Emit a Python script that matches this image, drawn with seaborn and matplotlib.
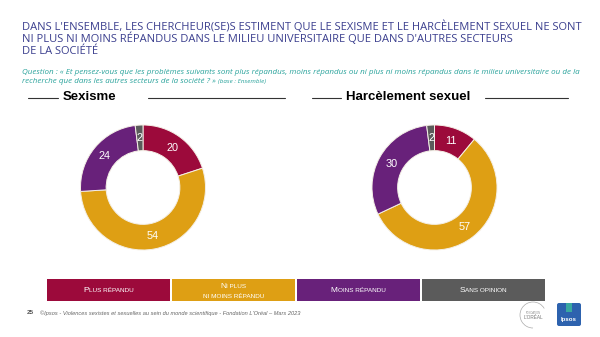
import matplotlib
matplotlib.use("Agg")
import matplotlib.pyplot as plt
import seaborn as sns
from matplotlib.patches import Rectangle, FancyBboxPatch, Arc

sns.set_theme(style="white")
plt.rcParams['font.family'] = ['Liberation Sans', 'DejaVu Sans']

# ---- data ----
categories = ["Plus répandu", "Ni plus ni moins répandu", "Moins répandu", "Sans opinion"]
sexisme = [20, 54, 24, 2]
harcelement = [11, 57, 30, 2]
chart_titles = ["Sexisme", "Harcèlement sexuel"]
legend_labels = [["Plus répandu"], ["Ni plus", "ni moins répandu"], ["Moins répandu"], ["Sans opinion"]]
colors = sns.color_palette(["#9C0A3B", "#DE9F14", "#68217A", "#5B5B5B"])

W, H = 600, 337
fig = plt.figure(figsize=(W / 100, H / 100), dpi=100)
fig.patch.set_facecolor("white")


def fx(x):
    return x / W


def fy(y):
    return 1 - y / H


# ---- title ----
title_lines = [
    "DANS L'ENSEMBLE, LES CHERCHEUR(SE)S ESTIMENT QUE LE SEXISME ET LE HARCÈLEMENT SEXUEL NE SONT",
    "NI PLUS NI MOINS RÉPANDUS DANS LE MILIEU UNIVERSITAIRE QUE DANS D'AUTRES SECTEURS",
    "DE LA SOCIÉTÉ",
]
for i, t in enumerate(title_lines):
    fig.text(fx(22), fy(26.5 + 12.5 * i), t, fontsize=8.0, color="#3B3F8E",
             family="Open Sans", va="center", ha="left")

q1 = ("Question : « Et pensez-vous que les problèmes suivants sont plus répandus, moins répandus "
      "ou ni plus ni moins répandus dans le milieu universitaire ou de la")
q2 = "recherche que dans les autres secteurs de la société ? » "
fig.text(fx(22), fy(72), q1, fontsize=5.75, color="#2AA39C", style="italic",
         family="Open Sans", va="center")
tq2 = fig.text(fx(22), fy(81.5), q2, fontsize=5.75, color="#2AA39C", style="italic",
               family="Open Sans", va="center")
r = fig.canvas.get_renderer()
w2 = tq2.get_window_extent(r).width
fig.text(fx(22 + w2), fy(81.5), "(base : Ensemble)", fontsize=4.5, color="#2AA39C",
         style="italic", family="Open Sans", va="center")

# ---- section headers ----
line_ax = fig.add_axes([0, 0, 1, 1], zorder=-1)
line_ax.set_xlim(0, W)
line_ax.set_ylim(H, 0)
line_ax.axis("off")
headers = [
    (chart_titles[0], 89, (28, 58), (148, 285)),
    (chart_titles[1], 408, (312, 341), (485, 568)),
]
for name, xc, l1, l2 in headers:
    fig.text(fx(xc), fy(97.5), name, fontsize=9.5, fontweight="bold", color="black",
             ha="center", va="center")
    line_ax.plot(l1, [98, 98], color="#333333", lw=0.8)
    line_ax.plot(l2, [98, 98], color="#333333", lw=0.8)

# ---- donuts ----
R = 62.5
for vals, cx in [(sexisme, 143), (harcelement, 434.5)]:
    ax = fig.add_axes([fx(cx - R), fy(187.5 + R), 2 * R / W, 2 * R / H])
    wedges, texts = ax.pie(
        vals, colors=colors, startangle=90, counterclock=False,
        labels=[str(v) for v in vals], labeldistance=0.79,
        wedgeprops=dict(width=0.41, edgecolor="#F4EFE6", linewidth=0.7),
        textprops=dict(color="white", fontsize=7.8),
    )
    for t in texts:
        t.set_ha("center")
        t.set_va("center")
    ax.set_aspect("equal")
    ax.set_xlim(-1, 1)
    ax.set_ylim(-1, 1)
    ax.axis("off")

# ---- legend boxes ----
box_x = [47, 172, 297, 422]
box_w = 122.5
for i, (lx, lab) in enumerate(zip(box_x, legend_labels)):
    line_ax.add_patch(Rectangle((lx, 279), box_w, 22, facecolor=colors[i], edgecolor="none"))


def small_caps(xc, yc, s, big=6.0, small=4.6):
    segs = []
    for ch in s:
        sz = big if ch.isupper() else small
        if segs and segs[-1][1] == sz:
            segs[-1][0] += ch.upper()
        else:
            segs.append([ch.upper(), sz])
    texts = [fig.text(0, 0, t, fontsize=sz, color="white", va="baseline") for t, sz in segs]
    rr = fig.canvas.get_renderer()
    widths = [t.get_window_extent(rr).width for t in texts]
    x = xc - sum(widths) / 2
    for t, w in zip(texts, widths):
        t.set_position((fx(x), fy(yc)))
        x += w


for lx, lab in zip(box_x, legend_labels):
    cxl = lx + box_w / 2
    if len(lab) == 1:
        small_caps(cxl, 292.5, lab[0])
    else:
        small_caps(cxl, 287.5, lab[0])
        small_caps(cxl, 297.5, lab[1])

# ---- footer ----
fig.text(fx(27), fy(313), "25", fontsize=4.6, fontweight="bold", color="#555555", va="center")
fig.text(fx(40), fy(313),
         "©Ipsos - Violences sexistes et sexuelles au sein du monde scientifique - Fondation L'Oréal – Mars 2023",
         fontsize=4.05, style="italic", color="#666666", va="center")

# logos
line_ax.add_patch(FancyBboxPatch((557, 303), 24, 23, boxstyle="round,pad=0,rounding_size=2",
                                 facecolor="#2D62AE", edgecolor="none"))
line_ax.add_patch(Rectangle((566, 303), 6, 9, facecolor="#39A8A0", edgecolor="none"))
fig.text(fx(569), fy(320), "Ipsos", fontsize=4.4, fontweight="bold", color="white",
         ha="center", va="center")
line_ax.add_patch(Arc((533, 315), 26, 26, theta1=90, theta2=330, color="#AAAAAA", lw=0.5))
fig.text(fx(533), fy(313.5), "FONDATION", fontsize=1.8, color="#888888", ha="center", va="center")
fig.text(fx(533), fy(317.5), "L'ORÉAL", fontsize=3.4, color="#777777", ha="center", va="center")

fig.savefig("out.png", dpi=100, facecolor="white")
